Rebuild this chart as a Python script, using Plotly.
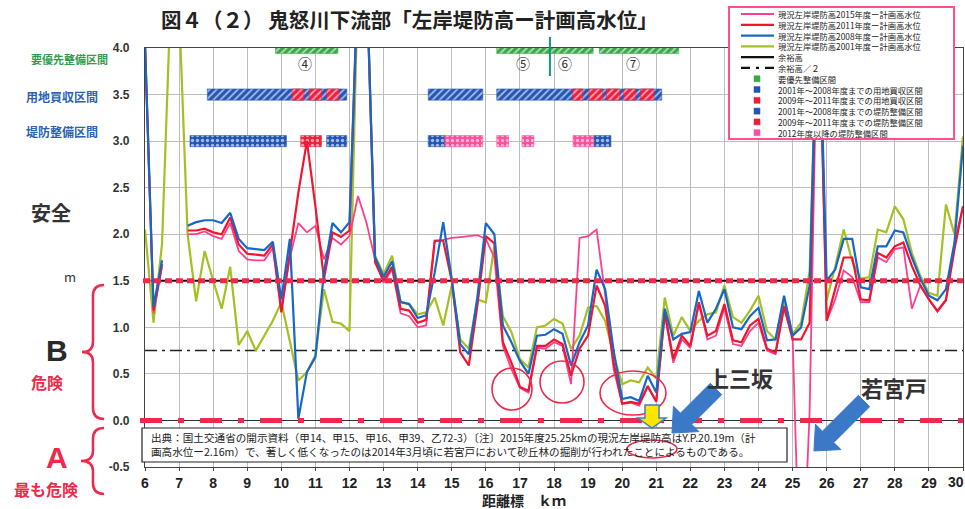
import math
import plotly.graph_objects as go

# ---------------- data ----------------
# distance markers (km), every 0.25 km from 6.0 to 30.0
km = [6 + 0.25 * i for i in range(97)]

# current left-bank levee height minus planned high water level (m)
levee_2015 = [4.05, 1.15, 1.65, None, None, 2.00, 2.00, 2.03, 1.98, 1.95,
              2.12, 1.82, 1.73, 1.72, 1.72, 1.85, 1.20, 1.75, 2.12, 2.02,
              2.09, 1.73, 1.96, 1.89, 1.98, 2.41, 2.12, 1.73, 1.48, 1.62,
              1.15, 1.12, 1.00, 1.02, 1.93, 1.94, 1.96, 1.97, 1.98, 1.99,
              1.95, 1.75, 0.80, 0.55, 0.35, 0.30, 0.78, 0.77, 0.84, 0.80,
              0.39, 1.96, 1.98, 2.05, 1.35, 0.55, 0.18, 0.19, 0.16, 0.36,
              0.21, 1.14, 0.62, 0.87, 0.78, 1.25, 0.87, 0.91, 1.21, 0.82,
              0.80, 0.96, 1.05, 0.75, 0.71, 1.20, 0.90, -2.16, 0.10, 4.80,
              1.07, 1.30, 1.61, 1.54, 1.27, 1.27, 1.75, 1.70, 1.84, 1.86,
              1.20, 1.45, 1.30, 1.18, 1.30, 1.91, 2.30]

levee_2011 = [4.05, 1.18, 1.68, None, None, 2.04, 2.04, 2.06, 2.02, 2.00,
              2.18, 1.89, 1.79, 1.78, 1.77, 1.89, 1.16, 1.80, 2.45, 3.00,
              2.30, 1.52, 2.02, 1.97, 2.04, 4.80, 4.80, 1.70, 1.50, 1.65,
              1.20, 1.18, 1.05, 1.08, 1.93, 1.93, 1.50, 0.73, 0.59, 1.23,
              1.98, 1.90, 0.84, 0.62, 0.36, 0.32, 0.80, 0.80, 0.87, 0.82,
              0.48, 0.77, 0.91, 1.45, 1.23, 0.62, 0.18, 0.20, 0.18, 0.37,
              0.20, 1.16, 0.66, 0.91, 0.80, 1.27, 0.91, 0.96, 1.25, 0.86,
              0.84, 1.02, 1.09, 0.77, 0.73, 1.23, 0.87, 0.87, 1.05, 4.80,
              1.07, 1.41, 1.75, 1.75, 1.30, 1.29, 1.80, 1.75, 1.87, 1.91,
              1.66, 1.45, 1.30, 1.17, 1.29, 1.84, 2.30]

levee_2008 = [4.05, 1.22, 1.72, None, None, 2.09, 2.13, 2.15, 2.15, 2.12,
              2.23, 1.95, 1.85, 1.84, 1.83, 1.92, 1.30, 1.95, 0.02, 0.52,
              0.68, 1.59, 2.12, 2.02, 2.13, 4.80, 4.80, 1.75, 1.54, 1.71,
              1.27, 1.25, 1.10, 1.13, 1.59, 2.13, 1.52, 0.82, 0.71, 1.32,
              2.12, 2.00, 1.02, 0.84, 0.64, 0.50, 0.91, 0.92, 0.98, 0.93,
              0.59, 0.84, 1.02, 1.62, 1.41, 0.75, 0.23, 0.25, 0.21, 0.48,
              0.30, 1.20, 0.87, 0.93, 0.95, 1.39, 1.05, 1.20, 1.41, 1.00,
              0.98, 1.12, 1.21, 0.86, 0.87, 1.34, 0.91, 1.00, 1.45, 4.80,
              1.50, 1.62, 1.95, 1.95, 1.43, 1.41, 1.87, 1.87, 2.04, 2.02,
              1.75, 1.52, 1.34, 1.29, 1.41, 1.91, 2.95]

levee_2001 = [2.05, 1.05, 1.90, 4.50, 4.43, 2.00, 1.28, 1.82, 1.50, 1.20,
              1.65, 0.81, 0.96, 0.75, 0.91, 1.07, 1.27, 0.85, 0.43, 0.52,
              0.70, 1.41, 1.06, 1.04, 0.96, 4.80, 4.80, 1.77, 1.57, 1.77,
              1.27, 1.25, 1.14, 1.16, 1.32, 1.02, 1.45, 0.87, 0.77, 1.30,
              1.27, 1.87, 1.12, 0.95, 0.66, 0.57, 1.00, 1.02, 1.09, 1.04,
              0.77, 0.91, 1.21, 1.23, 1.07, 0.70, 0.39, 0.43, 0.41, 0.57,
              0.45, 1.32, 0.91, 1.11, 0.96, 1.07, 1.14, 1.16, 1.45, 1.11,
              1.05, 1.18, 1.34, 0.96, 0.87, 1.30, 0.93, 1.05, 1.60, 4.80,
              1.29, 1.65, 2.05, 1.71, 1.52, 1.54, 2.05, 2.02, 2.30, 2.16,
              1.80, 1.55, 1.37, 1.34, 2.32, 2.00, 3.05]

freeboard = 1.5
half_freeboard = 0.75

# works sections (start km, end km)
priority_sections = [(9.83, 11.66), (16.32, 19.15), (19.33, 21.66)]
land_2001_2008 = [(7.83, 11.92), (14.31, 15.91), (16.32, 21.16)]
land_2009_2011 = [(10.32, 10.66), (10.82, 11.18), (11.33, 11.69), (18.55, 18.84),
                  (19.03, 19.43), (19.54, 19.93), (20.05, 20.40), (20.54, 20.93)]
levee_works_2001_2008 = [(7.32, 10.15), (11.33, 11.92), (14.31, 14.80), (19.17, 19.67)]
levee_works_2009_2011 = [(10.57, 11.18)]
levee_works_2012_on = [(14.80, 15.91), (16.32, 16.67), (17.06, 17.41), (18.56, 19.17)]

section_numbers = ["④", "⑤", "⑥", "⑦"]
section_number_km = [10.7, 17.1, 18.32, 20.33]
section_boundary_km = 17.88

x_ticks = list(range(6, 31))
y_ticks = [-0.5, 0.0, 0.5, 1.0, 1.5, 2.0, 2.5, 3.0, 3.5, 4.0]

# ---------------- layout helpers ----------------
W, H = 965, 509
ML, MR, MT, MB = 145, 2, 48, 42
PW, PH = W - ML - MR, H - MT - MB


def px(x):
    return (x - ML) / PW


def py(y):
    return (H - MB - y) / PH


JP = "Noto Sans CJK JP"
NUM = "Liberation Sans"

C_PINK = "#ff3f8e"
C_RED = "#f2152f"
C_BLUE = "#1668c8"
C_YG = "#a6c023"
C_GREEN = "#3aa848"
C_BAR_BLUE = "#2356b4"
C_BAR_RED = "#f01e3c"
C_BAR_PINK = "#ff4f9a"
C_HAND = "#f0284a"

fig = go.Figure()


def section_bars(segs, yval, color, shape, clip=True):
    return go.Bar(
        orientation="h",
        y=[yval] * len(segs),
        base=[s for s, e in segs],
        x=[e - s for s, e in segs],
        width=0.12,
        marker=dict(color=color, line=dict(color=color, width=0.6),
                    pattern=dict(shape=shape, fgcolor="white", bgcolor=color,
                                 fgopacity=0.6, size=5, solidity=0.35)),
        cliponaxis=clip, showlegend=False, hoverinfo="skip",
    )


fig.add_trace(section_bars(priority_sections, 4.0, C_GREEN, "/", clip=False))
fig.add_trace(section_bars(land_2001_2008, 3.5, C_BAR_BLUE, "/"))
fig.add_trace(section_bars(land_2009_2011, 3.5, C_BAR_RED, "/"))
fig.add_trace(section_bars(levee_works_2001_2008, 3.0, C_BAR_BLUE, "."))
fig.add_trace(section_bars(levee_works_2009_2011, 3.0, C_BAR_RED, "."))
fig.add_trace(section_bars(levee_works_2012_on, 3.0, C_BAR_PINK, "."))

# freeboard reference lines
fig.add_trace(go.Scatter(x=[6, 30], y=[half_freeboard] * 2, mode="lines",
                         line=dict(color="#222", width=1.5, dash="12px,5px,3px,5px"),
                         showlegend=False, hoverinfo="skip"))
fig.add_trace(go.Scatter(x=[6, 30], y=[freeboard] * 2, mode="lines",
                         line=dict(color="#111", width=2),
                         showlegend=False, hoverinfo="skip"))

# levee height series
for ys, col, w in [(levee_2001, C_YG, 2.2), (levee_2015, C_PINK, 1.8),
                   (levee_2011, C_RED, 2.2), (levee_2008, C_BLUE, 2.2)]:
    fig.add_trace(go.Scatter(x=km, y=ys, mode="lines", line=dict(color=col, width=w),
                             connectgaps=False, showlegend=False, hoverinfo="skip"))

shapes = []
annotations = []


def label(x, y, text, size, color, xanchor="center", family=JP, align="center"):
    annotations.append(dict(x=px(x), y=py(y), xref="paper", yref="paper",
                            xanchor=xanchor, yanchor="middle", showarrow=False,
                            align=align, borderpad=0,
                            text=text, font=dict(family=family, size=size, color=color)))


# hand-drawn red marks on 1.5 and 0.0
shapes.append(dict(type="line", xref="paper", yref="y", x0=px(143), x1=px(963),
                   y0=freeboard, y1=freeboard,
                   line=dict(color=C_HAND, width=5, dash="7px,4px")))
shapes.append(dict(type="line", xref="paper", yref="y", x0=px(140), x1=px(963),
                   y0=0, y1=0,
                   line=dict(color=C_HAND, width=5, dash="22px,16px,6px,16px")))

# section boundary marker between (5) and (6)
shapes.append(dict(type="line", xref="x", yref="paper", x0=section_boundary_km,
                   x1=section_boundary_km, y0=py(76), y1=py(37),
                   line=dict(color="#14977a", width=2)))

for lab, xk in zip(section_numbers, section_number_km):
    annotations.append(dict(x=xk, y=3.84, xref="x", yref="y", text=lab, showarrow=False,
                            xanchor="center", yanchor="middle",
                            font=dict(family=JP, size=14, color="#333")))


def brace(top, mid, bottom, stem):
    xt, yt = top
    xm, ym = mid
    xb, yb = bottom
    pts = [("M", [(xt, yt)]), ("Q", [(stem, yt), (stem, yt + 11)]),
           ("L", [(stem, ym - 10)]), ("Q", [(stem, ym), (xm, ym)]),
           ("Q", [(stem, ym), (stem, ym + 10)]), ("L", [(stem, yb - 11)]),
           ("Q", [(stem, yb), (xb, yb)])]
    out = []
    for cmd, cs in pts:
        out.append(cmd + " " + " ".join(f"{px(a):.4f},{py(b):.4f}" for a, b in cs))
    return " ".join(out)


shapes.append(dict(type="path", xref="paper", yref="paper",
                   path=brace((104, 285), (82, 352), (104, 419), 93),
                   line=dict(color=C_HAND, width=2.5)))
shapes.append(dict(type="path", xref="paper", yref="paper",
                   path=brace((104, 428), (81, 461), (104, 494), 93),
                   line=dict(color=C_HAND, width=2.5)))


def block_arrow(tail, tip, shaft_w, head_w, head_len):
    (x0, y0), (x1, y1) = tail, tip
    dx, dy = x1 - x0, y1 - y0
    L = math.hypot(dx, dy)
    ux, uy = dx / L, dy / L
    nx, ny = -uy, ux
    bx, by = x1 - ux * head_len, y1 - uy * head_len
    pts = [(x0 + nx * shaft_w / 2, y0 + ny * shaft_w / 2),
           (bx + nx * shaft_w / 2, by + ny * shaft_w / 2),
           (bx + nx * head_w / 2, by + ny * head_w / 2),
           (x1, y1),
           (bx - nx * head_w / 2, by - ny * head_w / 2),
           (bx - nx * shaft_w / 2, by - ny * shaft_w / 2),
           (x0 - nx * shaft_w / 2, y0 - ny * shaft_w / 2)]
    return "M " + " L ".join(f"{px(a):.4f},{py(b):.4f}" for a, b in pts) + " Z"


# note box
shapes.append(dict(type="rect", xref="paper", yref="paper", x0=px(142), x1=px(787),
                   y0=py(462), y1=py(428), fillcolor="white",
                   line=dict(color="#222", width=1.2)))
label(150, 444,
      "出典：国土交通省の開示資料（甲14、甲15、甲16、甲39、乙72-3）〔注〕2015年度25.25kmの現況左岸堤防高はY.P.20.19m（計"
      "<br>画高水位ー2.16m）で、著しく低くなったのは2014年3月頃に若宮戸において砂丘林の掘削が行われたことによるものである。",
      10.6, "#222", xanchor="left", align="left")

# red circles around the lowest stretches
for cx, cy, rx, ry in [(512, 389, 20, 21), (562, 382, 22, 21), (633, 393, 33, 22), (652, 449, 25, 9)]:
    shapes.append(dict(type="circle", xref="paper", yref="paper",
                       x0=px(cx - rx), x1=px(cx + rx), y0=py(cy + ry), y1=py(cy - ry),
                       line=dict(color=C_HAND, width=1.6)))

# arrows
shapes.append(dict(type="path", xref="paper", yref="paper",
                   path=block_arrow((652, 405), (652, 428), 14, 28, 10),
                   fillcolor="#ffe600", line=dict(color="#3d7fd0", width=1.5)))
shapes.append(dict(type="path", xref="paper", yref="paper",
                   path=block_arrow((716, 389), (672, 433), 16, 36, 20),
                   fillcolor="#3b78c6", line=dict(color="#3b78c6", width=1)))
shapes.append(dict(type="path", xref="paper", yref="paper",
                   path=block_arrow((864, 401), (814, 451), 16, 36, 20),
                   fillcolor="#3b78c6", line=dict(color="#3b78c6", width=1)))

label(740, 377, "<b>上三坂</b>", 22, "#333")
label(894, 387, "<b>若宮戸</b>", 22, "#333")

# title
label(409, 19, "<b>図４（２） 鬼怒川下流部「左岸堤防高ー計画高水位」</b>", 20.5, "#222")

# left side labels
label(69, 59, "<b>要優先整備区間</b>", 11, "#2e9e4a")
label(62, 96, "<b>用地買収区間</b>", 12, "#2a62b8")
label(62, 131, "<b>堤防整備区間</b>", 12, "#2a62b8")
label(51, 213, "<b>安全</b>", 20, "#333")
label(70, 276, "m", 13, "#333")
label(57, 350, "<b>B</b>", 30, "#2a2a2a", family=NUM)
label(47, 382, "<b>危険</b>", 16, C_HAND)
label(57, 457, "<b>A</b>", 30, C_HAND, family=NUM)
label(46, 489, "<b>最も危険</b>", 16, C_HAND)

# x axis title and the last tick label (kept inside the page edge)
label(524, 500, "<b>距離標　ｋｍ</b>", 14, "#222")
label(965, 482, "<b>30</b>", 14, "#222", xanchor="right", family=NUM)

# legend box
shapes.append(dict(type="rect", xref="paper", yref="paper", x0=px(729), x1=px(954),
                   y0=py(139), y1=py(7), fillcolor="white",
                   line=dict(color="#ff4f8f", width=2)))
legend_rows = [
    ("line", C_PINK, "solid", "現況左岸堤防高2015年度ー計画高水位"),
    ("line", C_RED, "solid", "現況左岸堤防高2011年度ー計画高水位"),
    ("line", C_BLUE, "solid", "現況左岸堤防高2008年度ー計画高水位"),
    ("line", C_YG, "solid", "現況左岸堤防高2001年度ー計画高水位"),
    ("line", "#111", "solid", "余裕高"),
    ("line", "#111", "9px,6px,3px,6px", "余裕高／２"),
    ("box", C_GREEN, None, "要優先整備区間"),
    ("box", C_BAR_BLUE, None, "2001年～2008年度までの用地買収区間"),
    ("box", C_BAR_RED, None, "2009年～2011年度までの用地買収区間"),
    ("box", C_BAR_BLUE, None, "2001年～2008年度までの堤防整備区間"),
    ("box", C_BAR_RED, None, "2009年～2011年度までの堤防整備区間"),
    ("box", C_BAR_PINK, None, "2012年度以降の堤防整備区間"),
]
LEG_FONT = 8.3
LEG_STEP = LEG_FONT * 1.3
for i, (kind, col, dash, text) in enumerate(legend_rows):
    yy = 14 + LEG_STEP * i
    if kind == "line":
        shapes.append(dict(type="line", xref="paper", yref="paper", x0=px(741), x1=px(774),
                           y0=py(yy), y1=py(yy), line=dict(color=col, width=2.2, dash=dash)))
    else:
        shapes.append(dict(type="rect", xref="paper", yref="paper", x0=px(754), x1=px(760),
                           y0=py(yy + 3), y1=py(yy - 3), fillcolor=col,
                           line=dict(color=col, width=0.5)))
label(777, 14 + LEG_STEP * (len(legend_rows) - 1) / 2,
      "<br>".join(r[3] for r in legend_rows), LEG_FONT, "#222",
      xanchor="left", align="left")

fig.update_layout(
    width=W, height=H,
    margin=dict(l=ML, r=MR, t=MT, b=MB, pad=0),
    paper_bgcolor="white", plot_bgcolor="white",
    barmode="overlay", showlegend=False,
    shapes=shapes, annotations=annotations,
    xaxis=dict(range=[6, 30], tickvals=x_ticks,
               ticktext=[str(t) if t < 30 else "" for t in x_ticks],
               showgrid=True, gridcolor="#bdbdbd", gridwidth=1,
               showline=True, linecolor="#444", linewidth=1.2, mirror=True,
               ticks="outside", ticklen=3, tickcolor="#444", zeroline=False,
               tickfont=dict(family=NUM, size=14, color="#222", weight="bold")),
    yaxis=dict(range=[-0.5, 4.0], tickvals=y_ticks, ticktext=[f"{t:.1f}" for t in y_ticks],
               showgrid=True, gridcolor="#bdbdbd", gridwidth=1,
               showline=True, linecolor="#444", linewidth=1.2, mirror=True,
               zeroline=True, zerolinecolor="#333", zerolinewidth=1,
               ticks="", ticklabelstandoff=12,
               tickfont=dict(family=NUM, size=12, color="#333", weight="bold")),
)

fig.write_html("out.html")
